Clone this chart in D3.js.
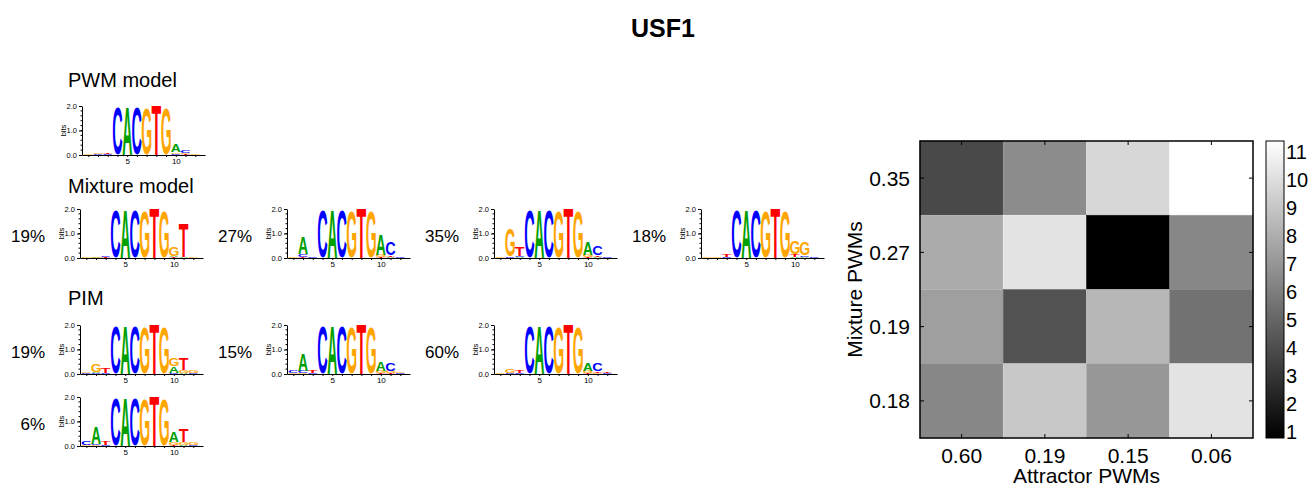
<!DOCTYPE html>
<html>
<head>
<meta charset="utf-8">
<script src="https://cdn.jsdelivr.net/npm/d3@7"></script>
<style>
  body { margin: 0; background: #fff; }
  text { font-family: "Liberation Sans", Arial, Helvetica, sans-serif; }
</style>
</head>
<body>
<svg id="chart" width="1316" height="489"></svg>
<script>
/* global d3 */
const title = 'USF1';

// heatmap: rows = mixture PWMs, columns = attractor PWMs
const attractorLabels = ['0.60', '0.19', '0.15', '0.06'];
const mixtureLabels = ['0.35', '0.27', '0.19', '0.18'];
const distances = [
  [3.8, 6.6, 9.7, 11.4],
  [7.9, 10.2, 0.8, 6.4],
  [7.4, 4.2, 8.4, 5.5],
  [6.4, 9.1, 7.1, 10.2]
];
const colorTicks = [1, 2, 3, 4, 5, 6, 7, 8, 9, 10, 11];

const mixtureWeights = ['19%', '27%', '35%', '18%'];
const pimWeights = ['19%', '15%', '60%', '6%'];

// logos: one entry per position, letters bottom -> top as [letter, bits]
const pwmLogo = [
  [['G', 0.02]], [['C', 0.03], ['G', 0.04]], [['C', 0.03], ['T', 0.05]],
  [['C', 1.95]], [['A', 1.95]], [['C', 1.95]], [['G', 1.9]], [['T', 2.0]], [['G', 1.9]],
  [['C', 0.05], ['G', 0.06], ['A', 0.3]], [['T', 0.03], ['G', 0.06], ['C', 0.08]], [['G', 0.02]]
];
const mixLogo1 = [
  [['G', 0.02]], [['A', 0.02], ['G', 0.02]], [['T', 0.02], ['C', 0.03]],
  [['C', 1.95]], [['A', 1.95]], [['C', 1.95]], [['G', 1.9]], [['T', 2.0]], [['G', 1.9]],
  [['T', 0.03], ['A', 0.05], ['G', 0.38]], [['A', 0.05], ['T', 1.4]], [['G', 0.02]]
];
const mixLogo2 = [
  [['G', 0.02]], [['T', 0.03], ['C', 0.12], ['A', 0.68]], [['C', 0.03]],
  [['C', 1.95]], [['A', 1.95]], [['C', 1.95]], [['G', 1.9]], [['T', 2.0]], [['G', 1.9]],
  [['T', 0.04], ['G', 0.08], ['A', 0.85]], [['A', 0.05], ['T', 0.06], ['C', 0.55]], [['C', 0.02]]
];
const mixLogo3 = [
  [['G', 0.02]], [['C', 0.06], ['G', 1.1]], [['A', 0.04], ['C', 0.05], ['T', 0.34]],
  [['C', 1.95]], [['A', 1.95]], [['C', 1.95]], [['G', 1.9]], [['T', 2.0]], [['G', 1.9]],
  [['T', 0.04], ['G', 0.08], ['A', 0.55]], [['A', 0.04], ['T', 0.06], ['C', 0.35]], [['C', 0.02]]
];
const mixLogo4 = [
  [['G', 0.02]], [['G', 0.02]], [['C', 0.03], ['T', 0.1]],
  [['C', 1.95]], [['A', 1.95]], [['C', 1.95]], [['G', 1.9]], [['T', 2.0]], [['G', 1.9]],
  [['A', 0.04], ['T', 0.12], ['G', 0.55]], [['A', 0.05], ['C', 0.06], ['G', 0.55]], [['C', 0.02]]
];
const pimLogo1 = [
  [['C', 0.02], ['G', 0.03]], [['C', 0.03], ['A', 0.05], ['G', 0.33]], [['C', 0.05], ['T', 0.18]],
  [['C', 1.95]], [['A', 1.95]], [['C', 1.95]], [['G', 1.9]], [['T', 2.0]], [['G', 1.9]],
  [['C', 0.04], ['A', 0.28], ['G', 0.3]], [['A', 0.05], ['G', 0.1], ['T', 0.45]], [['C', 0.05], ['G', 0.12]]
];
const pimLogo2 = [
  [['G', 0.04], ['C', 0.1]], [['G', 0.04], ['C', 0.08], ['A', 0.68]], [['C', 0.04], ['T', 0.1]],
  [['C', 1.95]], [['A', 1.95]], [['C', 1.95]], [['G', 1.9]], [['T', 2.0]], [['G', 1.9]],
  [['T', 0.03], ['G', 0.08], ['A', 0.35]], [['T', 0.03], ['G', 0.1], ['C', 0.32]], [['C', 0.04], ['G', 0.06]]
];
const pimLogo3 = [
  [['G', 0.03]], [['C', 0.04], ['G', 0.15]], [['C', 0.05], ['T', 0.12]],
  [['C', 1.95]], [['A', 1.95]], [['C', 1.95]], [['G', 1.9]], [['T', 2.0]], [['G', 1.9]],
  [['T', 0.03], ['G', 0.1], ['A', 0.32]], [['G', 0.06], ['T', 0.06], ['C', 0.3]], [['C', 0.05], ['T', 0.06]]
];
const pimLogo4 = [
  [['G', 0.05], ['C', 0.15]], [['G', 0.04], ['C', 0.06], ['A', 0.68]], [['C', 0.06], ['T', 0.15]],
  [['C', 1.95]], [['A', 1.95]], [['C', 1.95]], [['G', 1.9]], [['T', 2.0]], [['G', 1.9]],
  [['T', 0.03], ['G', 0.12], ['A', 0.4]], [['A', 0.05], ['G', 0.1], ['T', 0.55]], [['C', 0.05], ['G', 0.12]]
];

const letterColors = { A: '#00a000', C: '#0000ff', G: '#ffa500', T: '#ff0000' };

const svg = d3.select('#chart');

// title
svg.append('text')
  .attr('x', 663).attr('y', 37)
  .attr('text-anchor', 'middle')
  .style('font-size', '25px').style('font-weight', 'bold')
  .text(title);

// section headings
[['PWM model', 87], ['Mixture model', 193], ['PIM', 305]].forEach(([t, y]) => {
  svg.append('text').attr('x', 68).attr('y', y).style('font-size', '20px').text(t);
});

// glyph metrics so every letter fills its box exactly
const ctx = document.createElement('canvas').getContext('2d');
ctx.font = 'bold 100px "Liberation Sans"';
const glyph = {};
'ACGT'.split('').forEach(ch => {
  const m = ctx.measureText(ch);
  glyph[ch] = {
    left: -m.actualBoundingBoxLeft,
    width: m.actualBoundingBoxRight + m.actualBoundingBoxLeft,
    bottom: m.actualBoundingBoxDescent,
    height: m.actualBoundingBoxAscent + m.actualBoundingBoxDescent
  };
});

const logoW = 123, logoH = 49;

function drawLogo(data, axisX, base, weight) {
  const g = svg.append('g');
  const x = d3.scaleLinear().domain([0.35, 13]).range([axisX, axisX + logoW]);
  const y = d3.scaleLinear().domain([0, 2]).range([base, base - logoH]);
  const step = x(1) - x(0);
  const w = step * 0.98;

  data.forEach((stack, i) => {
    let acc = 0;
    stack.forEach(([ch, bits]) => {
      const h = y(acc) - y(acc + bits);
      const gm = glyph[ch];
      g.append('text')
        .attr('transform',
          `translate(${x(i + 1) - w / 2},${y(acc)}) scale(${w / gm.width},${h / gm.height}) translate(${-gm.left},${-gm.bottom})`)
        .style('font-size', '100px').style('font-weight', 'bold')
        .attr('fill', letterColors[ch])
        .text(ch);
      acc += bits;
    });
  });

  // axes
  const yAxis = g.append('g').attr('transform', `translate(${axisX},0)`)
    .call(d3.axisLeft(y).tickValues([0, 1, 2]).tickFormat(d3.format('.1f')).tickSize(3).tickSizeOuter(0));
  yAxis.selectAll('text').style('font-size', '7.5px').attr('font-family', null).attr('dx', '1');
  g.append('g').attr('transform', `translate(${axisX},0)`)
    .selectAll('line').data(d3.range(0.2, 2, 0.2)).join('line')
    .attr('x1', -1.5).attr('x2', 0).attr('y1', d => y(d)).attr('y2', d => y(d))
    .attr('stroke', '#000');
  const xAxis = g.append('g').attr('transform', `translate(0,${base})`)
    .call(d3.axisBottom(x).tickValues(d3.range(1, 13)).tickFormat(d => d % 5 === 0 ? d : '')
      .tickSize(2).tickSizeOuter(0));
  xAxis.selectAll('text').style('font-size', '8px').attr('font-family', null).attr('dy', '0.55em');
  xAxis.selectAll('text').filter(function () { return this.textContent === ''; }).remove();
  g.append('text')
    .attr('transform', `translate(${axisX - 16},${base - logoH / 2}) rotate(-90)`)
    .attr('text-anchor', 'middle')
    .style('font-size', '7.5px')
    .text('bits');

  if (weight) {
    svg.append('text')
      .attr('x', axisX - 35).attr('y', base - 16)
      .attr('text-anchor', 'end')
      .style('font-size', '17px')
      .text(weight);
  }
}

drawLogo(pwmLogo, 82, 155);
[mixLogo1, mixLogo2, mixLogo3, mixLogo4].forEach((d, i) =>
  drawLogo(d, [80, 287, 494, 701][i], 258, mixtureWeights[i]));
[pimLogo1, pimLogo2, pimLogo3].forEach((d, i) =>
  drawLogo(d, [80, 287, 494][i], 374, pimWeights[i]));
drawLogo(pimLogo4, 80, 446, pimWeights[3]);

// heatmap
const hm = { left: 920, right: 1253, top: 141, bottom: 438 };
const cx = d3.scaleBand().domain(attractorLabels.map((d, i) => i)).range([hm.left, hm.right]);
const cy = d3.scaleBand().domain(mixtureLabels.map((d, i) => i)).range([hm.top, hm.bottom]);
const cDomain = [0.78, 11.38];
const gray = d3.scaleLinear().domain(cDomain).range(['#000', '#fff']).clamp(true);

const cells = [];
distances.forEach((row, r) => row.forEach((v, c) => cells.push({ r, c, v })));
svg.append('g').selectAll('rect').data(cells).join('rect')
  .attr('x', d => cx(d.c)).attr('y', d => cy(d.r))
  .attr('width', cx.bandwidth()).attr('height', cy.bandwidth())
  .attr('fill', d => gray(d.v))
  .attr('stroke', d => gray(d.v + 0.8)).attr('stroke-width', 0.6);

svg.append('rect')
  .attr('x', hm.left).attr('y', hm.top)
  .attr('width', hm.right - hm.left).attr('height', hm.bottom - hm.top)
  .attr('fill', 'none').attr('stroke', '#000').attr('stroke-width', 1.5);

// inward ticks
const tk = svg.append('g').attr('stroke', '#000').attr('stroke-width', 1);
attractorLabels.forEach((d, i) => {
  const xx = cx(i) + cx.bandwidth() / 2;
  tk.append('line').attr('x1', xx).attr('x2', xx).attr('y1', hm.top).attr('y2', hm.top + 4);
  tk.append('line').attr('x1', xx).attr('x2', xx).attr('y1', hm.bottom).attr('y2', hm.bottom - 4);
  svg.append('text').attr('x', xx).attr('y', 463).attr('text-anchor', 'middle')
    .style('font-size', '21px').text(d);
});
mixtureLabels.forEach((d, i) => {
  const yy = cy(i) + cy.bandwidth() / 2;
  tk.append('line').attr('y1', yy).attr('y2', yy).attr('x1', hm.left).attr('x2', hm.left + 4);
  tk.append('line').attr('y1', yy).attr('y2', yy).attr('x1', hm.right).attr('x2', hm.right - 4);
  svg.append('text').attr('x', 910).attr('y', yy + 7.5).attr('text-anchor', 'end')
    .style('font-size', '21px').text(d);
});

svg.append('text').attr('x', (hm.left + hm.right) / 2).attr('y', 483)
  .attr('text-anchor', 'middle').style('font-size', '21px').text('Attractor PWMs');
svg.append('text')
  .attr('transform', `translate(862,${(hm.top + hm.bottom) / 2}) rotate(-90)`)
  .attr('text-anchor', 'middle').style('font-size', '21px').text('Mixture PWMs');

// colorbar
const cb = { left: 1266, right: 1284 };
const grad = svg.append('defs').append('linearGradient')
  .attr('id', 'cbGrad').attr('x1', 0).attr('x2', 0).attr('y1', 1).attr('y2', 0);
grad.append('stop').attr('offset', 0).attr('stop-color', '#000');
grad.append('stop').attr('offset', 1).attr('stop-color', '#fff');
svg.append('rect')
  .attr('x', cb.left).attr('y', hm.top)
  .attr('width', cb.right - cb.left).attr('height', hm.bottom - hm.top)
  .attr('fill', 'url(#cbGrad)').attr('stroke', '#000').attr('stroke-width', 1);
const cbScale = d3.scaleLinear().domain(cDomain).range([hm.bottom, hm.top]);
colorTicks.forEach(t => {
  const yy = cbScale(t);
  tk.append('line').attr('y1', yy).attr('y2', yy).attr('x1', cb.left).attr('x2', cb.left + 3).attr('stroke', '#666');
  tk.append('line').attr('y1', yy).attr('y2', yy).attr('x1', cb.right).attr('x2', cb.right - 3).attr('stroke', '#666');
  svg.append('text').attr('x', cb.right + 2).attr('y', yy + 7)
    .style('font-size', '20px').text(t);
});
</script>
</body>
</html>
